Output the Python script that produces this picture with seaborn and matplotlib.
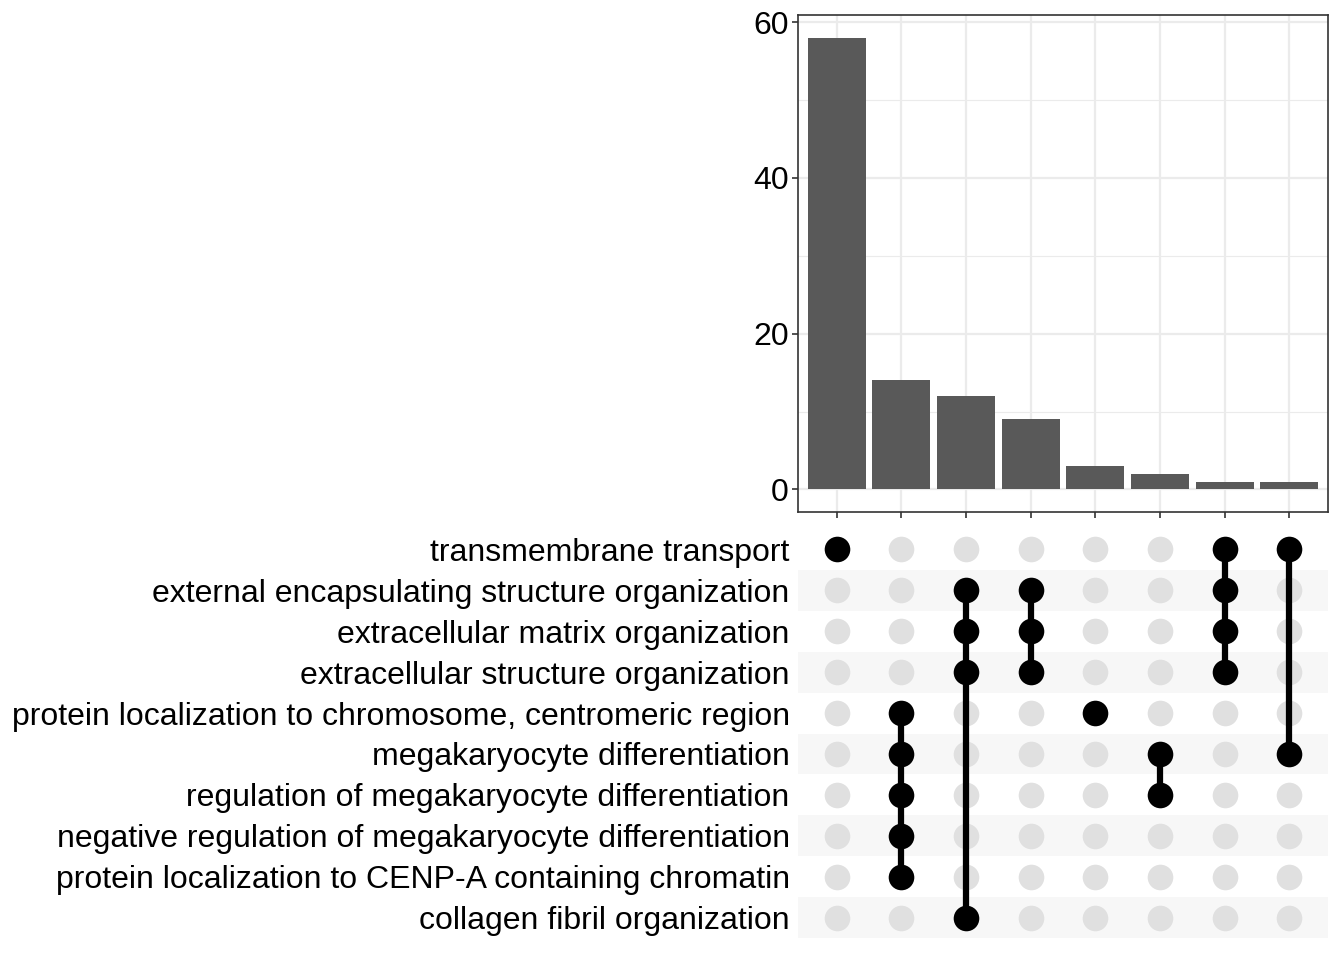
import numpy as np
import pandas as pd
import seaborn as sns
import matplotlib.pyplot as plt

# set names, top row first
sets = ['transmembrane transport',
        'external encapsulating structure organization',
        'extracellular matrix organization',
        'extracellular structure organization',
        'protein localization to chromosome, centromeric region',
        'megakaryocyte differentiation',
        'regulation of megakaryocyte differentiation',
        'negative regulation of megakaryocyte differentiation',
        'protein localization to CENP-A containing chromatin',
        'collagen fibril organization']

# intersection sizes
counts = [58, 14, 12, 9, 3, 2, 1, 1]

# members of each intersection (row index in sets)
members = [[0],
           [4, 5, 6, 7, 8],
           [1, 2, 3, 9],
           [1, 2, 3],
           [4],
           [5, 6],
           [0, 1, 2, 3],
           [0, 5]]

sns.set_theme(style='white')
plt.rcParams['font.family'] = ['Liberation Sans', 'DejaVu Sans']

W, H = 1344, 960
fig = plt.figure(figsize=(W / 100, H / 100), dpi=100)

def box(x0, y0, x1, y1):
    return [x0 / W, 1 - y1 / H, (x1 - x0) / W, (y1 - y0) / H]

ncol = len(counts)
xlim = (-0.6, ncol - 1 + 0.6)
FS = 23

### bar panel
ax = fig.add_axes(box(798, 15, 1328, 512))
df_bar = pd.DataFrame({'id': np.arange(ncol), 'n': counts})
ax.set_axisbelow(True)
for v in [10, 30, 50]:
    ax.axhline(v, color='#ebebeb', lw=0.8, zorder=0)
for v in [0, 20, 40, 60]:
    ax.axhline(v, color='#ebebeb', lw=1.6, zorder=0)
for i in range(ncol):
    ax.axvline(i, color='#ebebeb', lw=1.6, zorder=0)
sns.barplot(x='id', y='n', data=df_bar, color='#595959', width=0.9,
            saturation=1, ax=ax, native_scale=True, zorder=2, linewidth=0)
ax.set_xlim(*xlim)
ax.set_ylim(-0.05 * 58, 58 * 1.05)
ax.set_yticks([0, 20, 40, 60])
ax.set_xticks(range(ncol))
ax.set_xticklabels([])
ax.set_xlabel('')
ax.set_ylabel('')
ax.tick_params(axis='both', length=4.5, width=1.2, color='#333333',
               labelsize=FS, labelcolor='black', bottom=True, left=True, pad=2)
for s in ax.spines.values():
    s.set_color('#333333')
    s.set_linewidth(1.2)

### matrix panel
ax2 = fig.add_axes(box(798, 529, 1328, 938))
nrow = len(sets)
for r in range(nrow):
    if r % 2 == 1:
        ax2.axhspan(r - 0.5, r + 0.5, color='#f7f7f7', lw=0, zorder=0)

grid = pd.DataFrame([(c, r, r in members[c]) for c in range(ncol) for r in range(nrow)],
                    columns=['col', 'row', 'on'])
sns.scatterplot(x='col', y='row', data=grid[~grid['on']], color='#e0e0e0',
                s=340, linewidth=0, ax=ax2, zorder=1, legend=False)
for c, m in enumerate(members):
    if len(m) > 1:
        ax2.plot([c, c], [min(m), max(m)], color='black', lw=4.5, zorder=2,
                 solid_capstyle='butt')
sns.scatterplot(x='col', y='row', data=grid[grid['on']], color='black',
                s=340, linewidth=0, ax=ax2, zorder=3, legend=False)
ax2.set_xlim(*xlim)
ax2.set_ylim(nrow - 0.5, -0.5)
ax2.set_yticks(range(nrow))
ax2.set_yticklabels(sets)
ax2.set_xticks([])
ax2.set_xlabel('')
ax2.set_ylabel('')
ax2.tick_params(axis='y', length=0, labelsize=FS, labelcolor='black', pad=6)
for s in ax2.spines.values():
    s.set_visible(False)

fig.savefig('out.png', dpi=100)
